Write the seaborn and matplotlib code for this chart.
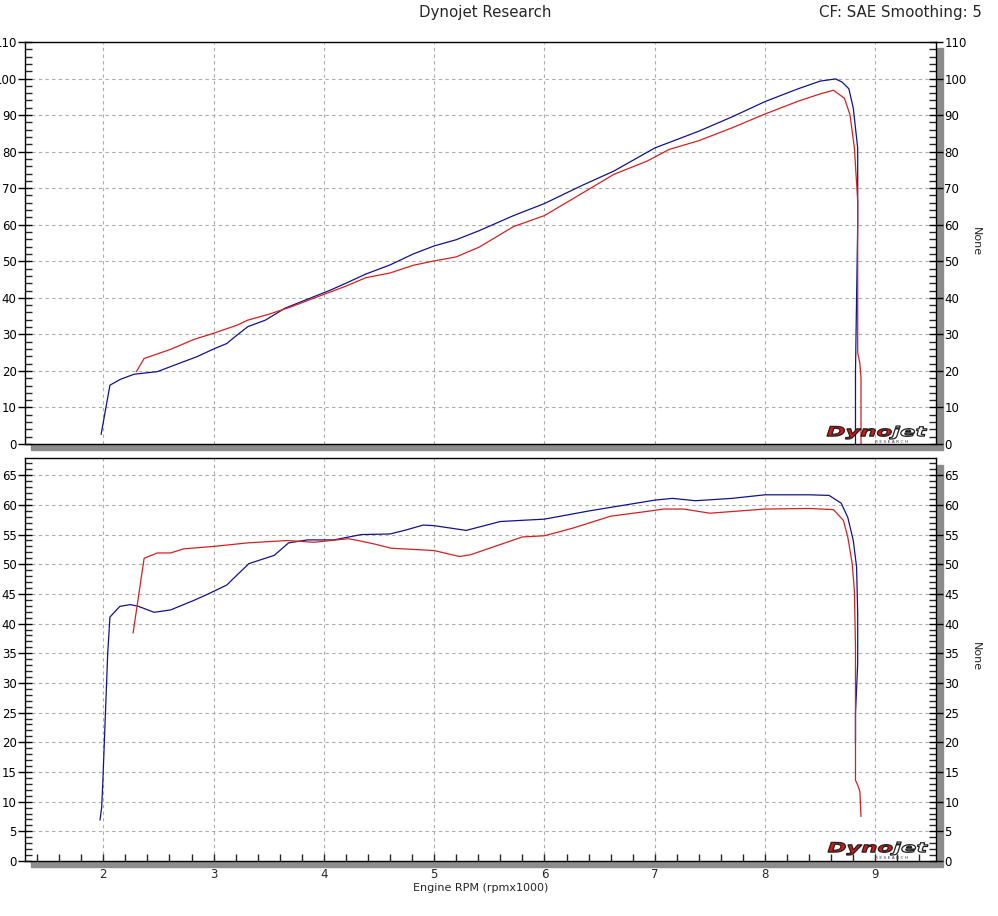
import numpy as np
import pandas as pd
import matplotlib
matplotlib.use("Agg")
import matplotlib.pyplot as plt
from matplotlib.patches import Rectangle, PathPatch
from matplotlib.textpath import TextPath, text_to_path
from matplotlib.font_manager import FontProperties
from matplotlib.transforms import Affine2D
from matplotlib.ticker import MultipleLocator
import seaborn as sns

# power run 1 (blue)
rpm_hp_blue = [1.98, 2.06, 2.155, 2.28, 2.49, 2.70, 2.85, 3.0, 3.12, 3.2, 3.31, 3.47, 3.65, 3.85,
               4.05, 4.2, 4.38, 4.6, 4.81, 5.0, 5.2, 5.41, 5.72, 6.0, 6.33, 6.63, 7.0, 7.4, 7.7,
               8.0, 8.3, 8.5, 8.64, 8.7, 8.76, 8.80, 8.84, 8.84, 8.83, 8.82, 8.82]
hp_blue = [2.6, 16.1, 17.7, 19.1, 19.8, 22.2, 23.9, 26.0, 27.5, 29.5, 32.1, 33.9, 37.2, 39.6,
           42.0, 44.0, 46.5, 49.0, 52.0, 54.2, 55.9, 58.4, 62.5, 65.8, 70.6, 74.7, 81.0, 85.6, 89.5,
           93.7, 97.2, 99.3, 99.9, 99.0, 97.2, 91.9, 81.0, 60.0, 40.0, 20.0, 0.0]

# power run 2 (red)
rpm_hp_red = [2.30, 2.37, 2.61, 2.82, 3.0, 3.22, 3.31, 3.5, 3.7, 3.9, 4.05, 4.2, 4.38, 4.6, 4.81,
              5.0, 5.2, 5.41, 5.72, 6.0, 6.33, 6.63, 6.93, 7.13, 7.4, 7.7, 8.0, 8.3, 8.5, 8.62,
              8.72, 8.77, 8.81, 8.84, 8.84, 8.86, 8.87, 8.87]
hp_red = [19.8, 23.4, 25.9, 28.6, 30.3, 32.6, 33.9, 35.5, 37.5, 39.8, 41.5, 43.2, 45.5, 46.8, 48.9,
          50.1, 51.2, 53.9, 59.5, 62.5, 68.4, 73.8, 77.4, 80.6, 83.0, 86.5, 90.3, 93.8, 95.8, 96.8,
          94.6, 90.1, 81.0, 66.5, 25.0, 22.0, 18.0, 0.0]

# torque run 1 (blue)
rpm_tq_blue = [1.97, 1.985, 1.995, 2.04, 2.06, 2.15, 2.245, 2.32, 2.46, 2.61, 2.82, 2.94, 3.12,
               3.18, 3.32, 3.55, 3.68, 3.85, 4.09, 4.34, 4.6, 4.75, 4.9, 5.0, 5.29, 5.6, 6.0,
               6.41, 7.0, 7.16, 7.37, 7.7, 8.0, 8.4, 8.58, 8.69, 8.75, 8.80, 8.83, 8.84, 8.84,
               8.82, 8.82]
tq_blue = [6.9, 9.0, 13.0, 35.0, 41.1, 42.9, 43.2, 42.9, 41.9, 42.3, 43.9, 44.9, 46.5,
           47.6, 50.1, 51.5, 53.6, 54.1, 54.1, 55.0, 55.1, 55.8, 56.6, 56.5, 55.7, 57.2, 57.6,
           59.0, 60.8, 61.1, 60.7, 61.1, 61.7, 61.7, 61.6, 60.3, 57.9, 54.0, 49.5, 41.7, 33.3,
           24.9, 20.0]

# torque run 2 (red)
rpm_tq_red = [2.27, 2.37, 2.49, 2.61, 2.73, 3.0, 3.31, 3.67, 3.91, 4.22, 4.31, 4.46, 4.61, 5.0,
              5.23, 5.33, 5.8, 6.0, 6.26, 6.6, 6.93, 7.08, 7.26, 7.5, 8.0, 8.4, 8.62, 8.71, 8.75,
              8.79, 8.81, 8.82, 8.82, 8.84, 8.86, 8.87]
tq_red = [38.4, 51.0, 51.9, 51.9, 52.6, 53.0, 53.6, 54.0, 53.7, 54.3, 54.0, 53.4, 52.7, 52.3,
          51.3, 51.6, 54.6, 54.8, 56.1, 58.1, 58.9, 59.3, 59.3, 58.6, 59.3, 59.4, 59.2, 57.4, 54.6,
          50.1, 45.6, 36.0, 13.6, 12.8, 11.7, 7.5]

x_ticks = [2, 3, 4, 5, 6, 7, 8, 9]

run_colors = {"run1": "#12128c", "run2": "#d42020"}

sns.set_style("white")
plt.rcParams["font.family"] = ["DejaVu Sans"]

W, H = 998, 916
fig = plt.figure(figsize=(W / 100, H / 100), dpi=100)


def fx(px):
    return px / W


def fy(py):
    return 1 - py / H


ax1 = fig.add_axes([fx(25), fy(444), fx(936) - fx(25), fy(42) - fy(444)])
ax2 = fig.add_axes([fx(25), fy(861), fx(936) - fx(25), fy(458) - fy(861)])


def make_df(rpm_a, val_a, rpm_b, val_b):
    a = pd.DataFrame({"rpm": rpm_a, "val": val_a, "run": "run1"})
    b = pd.DataFrame({"rpm": rpm_b, "val": val_b, "run": "run2"})
    return pd.concat([a, b], ignore_index=True)


df_hp = make_df(rpm_hp_blue, hp_blue, rpm_hp_red, hp_red)
df_tq = make_df(rpm_tq_blue, tq_blue, rpm_tq_red, tq_red)

for ax, df, ymax, major, minor in [(ax1, df_hp, 110, 10, 2), (ax2, df_tq, 67.9, 5, 1)]:
    sns.lineplot(data=df, x="rpm", y="val", hue="run", palette=run_colors, sort=False,
                 estimator=None, legend=False, linewidth=0.9, ax=ax)
    ax.set_xlim(1.29, 9.55)
    ax.set_ylim(0, ymax)
    ax.set_xlabel("")
    ax.set_ylabel("")
    ax.xaxis.set_major_locator(MultipleLocator(1))
    ax.xaxis.set_minor_locator(MultipleLocator(0.2))
    ax.yaxis.set_major_locator(MultipleLocator(major))
    ax.yaxis.set_minor_locator(MultipleLocator(minor))
    ax.grid(True, which="major", color="#ababab", linestyle=(0, (3, 3)), linewidth=0.8)
    ax.set_axisbelow(True)
    for s in ax.spines.values():
        s.set_color("black")
        s.set_linewidth(1.0)
    ax.tick_params(axis="y", which="major", direction="inout", length=10, width=1,
                   left=True, right=True, labelleft=True, labelright=True,
                   labelsize=8.5, pad=1, colors="black")
    ax.tick_params(axis="y", which="minor", direction="in", length=5, width=1,
                   left=True, right=True)

ax1.tick_params(axis="x", which="both", bottom=False, labelbottom=False)
ax2.tick_params(axis="x", which="both", direction="in", length=5, width=1, bottom=True,
                labelsize=8.5, pad=5)
ax2.set_xticks(x_ticks)
ax2.set_xticklabels([str(t) for t in x_ticks])

# grey scroll bars along the bottom and right edges
for top_px, bot_px in [(48, 444), (465, 861)]:
    fig.patches.append(Rectangle((fx(937), fy(bot_px)), fx(6), fy(top_px) - fy(bot_px),
                                 transform=fig.transFigure, color="#8c8c8c", zorder=-1))
for y_px in [444, 861]:
    fig.patches.append(Rectangle((fx(31), fy(y_px + 6)), fx(943) - fx(31), 6 / H,
                                 transform=fig.transFigure, color="#8c8c8c", zorder=-1))

# Dynojet logos, stretched to the logo box
fp = FontProperties(family="DejaVu Sans", weight="heavy", style="italic", size=10)
w_dyno = text_to_path.get_text_width_height_descent("Dyno", fp, ismath=False)[0]
path_dyno = TextPath((0, 0), "Dyno", prop=fp)
path_jet = TextPath((w_dyno, 0), "jet", prop=fp)
ext_all = TextPath((0, 0), "Dynojet", prop=fp).get_extents()

for left_px, top_px, bot_px in [(827, 426, 439), (828, 842, 855)]:
    sx = 100 / ext_all.width
    sy = (bot_px - top_px) / ext_all.height
    tr = (Affine2D().translate(-ext_all.x0, -ext_all.y0).scale(sx, sy)
          .translate(left_px, H - bot_px))
    fig.add_artist(PathPatch(path_dyno, transform=tr, facecolor="#d01818",
                             edgecolor="#202020", linewidth=0.9))
    fig.add_artist(PathPatch(path_jet, transform=tr, facecolor="white",
                             edgecolor="#202020", linewidth=0.9))
    fig.text(fx(892), fy(bot_px + 3), "R E S E A R C H", ha="center", va="center",
             fontsize=3.2, color="#404040")

fig.text(fx(485), fy(12), "Dynojet Research", ha="center", va="center", fontsize=10.8)
fig.text(fx(982), fy(12), "CF: SAE Smoothing: 5", ha="right", va="center", fontsize=10.8)
fig.text(fx(481), fy(888), "Engine RPM (rpmx1000)", ha="center", va="center", fontsize=8)
fig.text(fx(976), fy(242), "None", ha="center", va="center", rotation=270, fontsize=8)
fig.text(fx(976), fy(657), "None", ha="center", va="center", rotation=270, fontsize=8)

fig.savefig("out.png", dpi=100)
